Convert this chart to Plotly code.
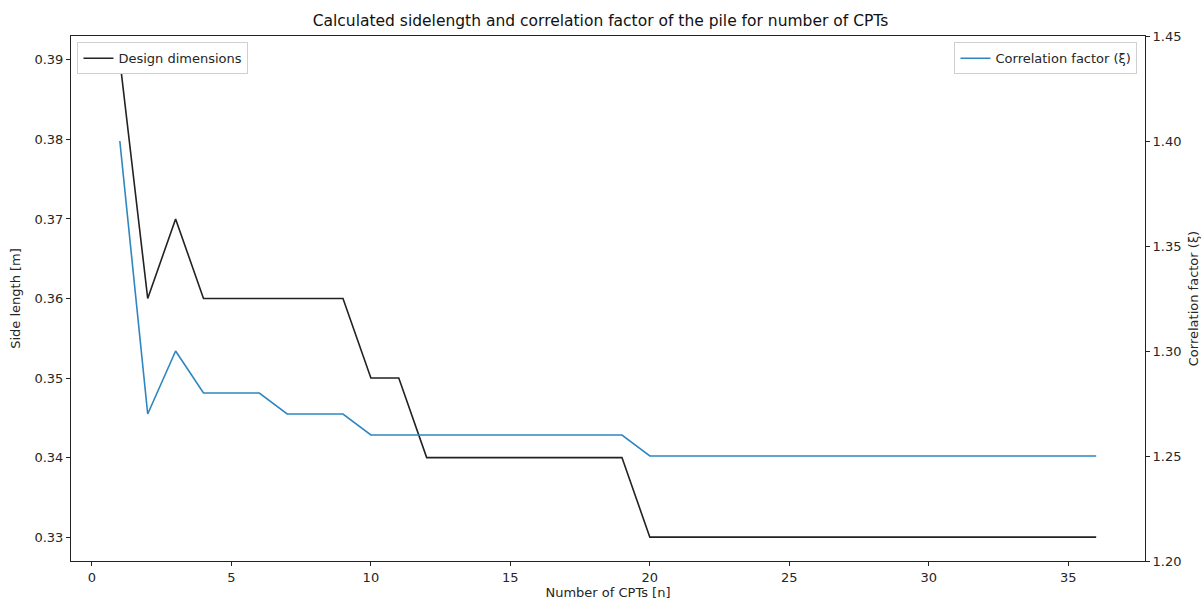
import plotly.graph_objects as go

# Number of CPTs used in the design
n_cpts = list(range(1, 37))

# Calculated side length of the pile [m]
side_length = [0.39, 0.36, 0.37, 0.36, 0.36, 0.36, 0.36, 0.36, 0.36,
               0.35, 0.35,
               0.34, 0.34, 0.34, 0.34, 0.34, 0.34, 0.34, 0.34] + [0.33] * 17

# Correlation factor xi
corr_factor = [1.40, 1.27, 1.30, 1.28, 1.28, 1.28, 1.27, 1.27, 1.27] + \
              [1.26] * 10 + [1.25] * 17

FONT = "DejaVu Sans, sans-serif"
TXT = "#262626"
FS = 13

fig = go.Figure()
fig.add_trace(go.Scatter(
    x=n_cpts, y=side_length, mode="lines", name="Design dimensions",
    line=dict(color="#222222", width=1.6), legend="legend", yaxis="y",
    showlegend=True))
fig.add_trace(go.Scatter(
    x=n_cpts, y=corr_factor, mode="lines", name="Correlation factor (ξ)",
    line=dict(color="#2e86c1", width=1.6), legend="legend2", yaxis="y2",
    showlegend=True))

axis_common = dict(
    showgrid=False, zeroline=False, showline=True, linecolor="#222222",
    linewidth=1, ticks="outside", ticklen=4, tickcolor="#222222",
    tickfont=dict(family=FONT, size=FS, color=TXT), automargin=False,
)

fig.update_layout(
    width=1201, height=600,
    margin=dict(l=71, r=56, t=36, b=39),
    paper_bgcolor="white", plot_bgcolor="white",
    showlegend=True,
    font=dict(family=FONT, size=FS, color=TXT),
    title=dict(text="Calculated sidelength and correlation factor of the pile for number of CPTs",
               x=0.5, xanchor="center", y=0.965, yanchor="middle",
               font=dict(family=FONT, size=15.5, color="#111111")),
    xaxis=dict(**axis_common, range=[-0.75, 37.75], tickvals=[0, 5, 10, 15, 20, 25, 30, 35],
               mirror=True,
               title=dict(text="Number of CPTs [n]", standoff=8,
                          font=dict(family=FONT, size=FS, color=TXT))),
    yaxis=dict(**axis_common, range=[0.327, 0.393],
               tickvals=[0.33, 0.34, 0.35, 0.36, 0.37, 0.38, 0.39],
               ticktext=["0.33", "0.34", "0.35", "0.36", "0.37", "0.38", "0.39"],
               title=dict(text="Side length [m]", standoff=10,
                          font=dict(family=FONT, size=FS, color=TXT))),
    yaxis2=dict(**axis_common, overlaying="y", side="right", range=[1.20, 1.45],
                tickvals=[1.20, 1.25, 1.30, 1.35, 1.40, 1.45],
                ticktext=["1.20", "1.25", "1.30", "1.35", "1.40", "1.45"],
                title=dict(text="Correlation factor (ξ)", standoff=8,
                           font=dict(family=FONT, size=FS, color=TXT))),
    legend=dict(x=0.006, y=0.988, xanchor="left", yanchor="top",
                bgcolor="white", bordercolor="#d0d0d0", borderwidth=1,
                font=dict(family=FONT, size=FS, color=TXT), itemwidth=30,
                tracegroupgap=0),
    legend2=dict(x=0.993, y=0.988, xanchor="right", yanchor="top",
                 bgcolor="white", bordercolor="#d0d0d0", borderwidth=1,
                 font=dict(family=FONT, size=FS, color=TXT), itemwidth=30,
                 tracegroupgap=0),
)

fig.write_html("out.html")
